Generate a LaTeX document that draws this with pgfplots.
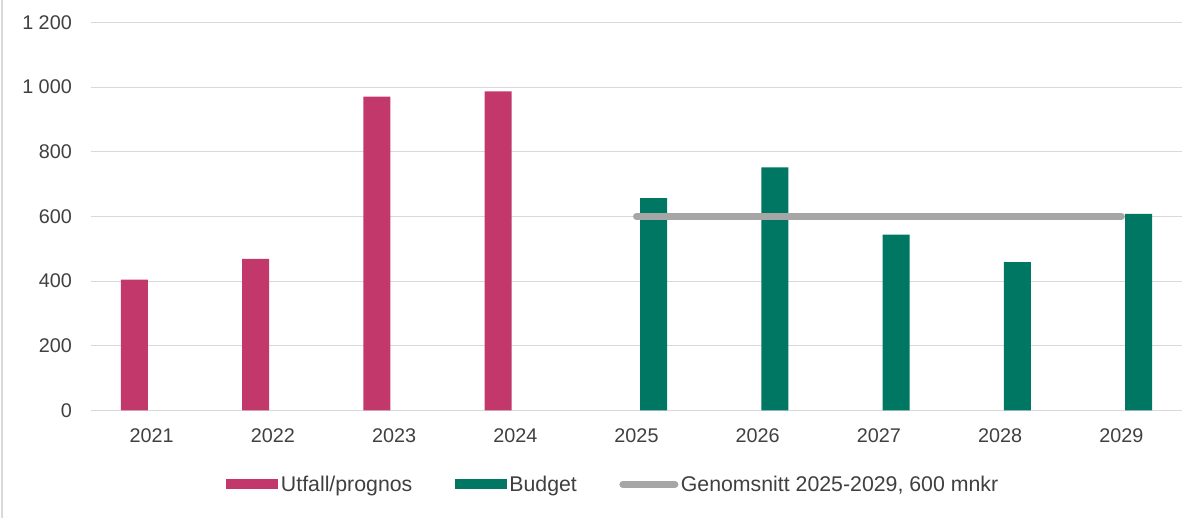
\documentclass[border=0pt]{standalone}
\usepackage{pgfplots}
\pgfplotsset{compat=1.18}
\usepackage{fontspec}
\setmainfont{Liberation Sans}
\definecolor{pinkc}{HTML}{C3386B}
\definecolor{greenc}{HTML}{007762}
\definecolor{avgc}{HTML}{A6A6A6}
\definecolor{gridc}{HTML}{D9D9D9}
\definecolor{txtc}{HTML}{404040}
\begin{document}
\begin{tikzpicture}[x=1bp,y=1bp]
\path[use as bounding box] (0,0) rectangle (1182,518);
\draw[gridc, line width=2bp] (2,0) -- (2,518);
\begin{axis}[
  at={(91bp,107.5bp)}, anchor=south west,
  scale only axis, width=1091bp, height=388bp,
  xmin=-0.5, xmax=8.5, ymin=0, ymax=1200,
  axis line style={draw=none},
  ybar, bar width=27bp,
  xtick={0,...,8},
  xticklabels={2021,2022,2023,2024,2025,2026,2027,2028,2029},
  ytick={0,200,...,1200},
  yticklabels={0,200,400,600,800,1 000,1 200},
  ymajorgrids, major grid style={gridc, line width=1.3bp},
  major tick length=0pt,
  tick style={draw=none},
  tick label style={font=\fontsize{19.8bp}{23bp}\selectfont, text=txtc},
  yticklabel style={anchor=east, inner sep=0pt, xshift=-19bp},
  xticklabel style={anchor=north, inner sep=0pt, yshift=-18bp},
  legend columns=3,
  legend style={at={(0.479,-0.1907)}, anchor=center, draw=none,
    font=\fontsize{21.3bp}{25bp}\selectfont, text=txtc,
    inner sep=0pt,
    nodes={inner sep=2.5bp},
    /tikz/every even column/.append style={column sep=40bp}},
]
\addplot[fill=pinkc, draw=none, bar shift=-17.25bp,
  legend image code/.code={\fill[pinkc] (0bp,-5bp) rectangle (52bp,5bp);}]
  coordinates {(0,405) (1,469) (2,971) (3,987)};
\addlegendentry{Utfall/prognos}
\addplot[fill=greenc, draw=none, bar shift=17.25bp,
  legend image code/.code={\fill[greenc] (0bp,-5bp) rectangle (52bp,5bp);}]
  coordinates {(4,657) (5,752) (6,544) (7,459) (8,608)};
\addlegendentry{Budget}
\addplot[sharp plot, draw=avgc, line width=7bp, line cap=round, mark=none,
  legend image code/.code={\draw[avgc, line width=7bp, line cap=round] (3.5bp,0bp) -- (55.5bp,0bp);}]
  coordinates {(4,600) (8,600)};
\addlegendentry{Genomsnitt 2025-2029, 600 mnkr}
\end{axis}
\end{tikzpicture}
\end{document}
